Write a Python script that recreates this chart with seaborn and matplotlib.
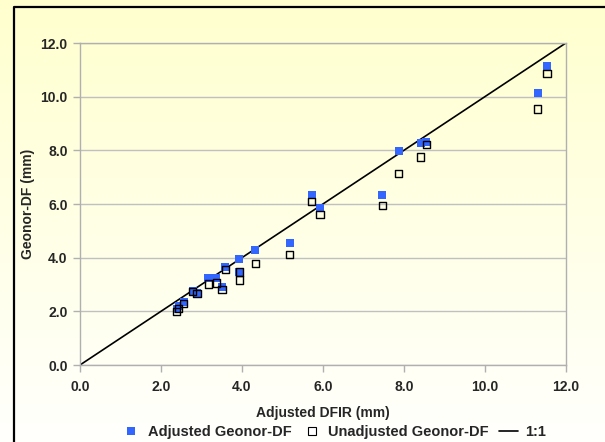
import numpy as np
import pandas as pd
import seaborn as sns
import matplotlib.pyplot as plt
from matplotlib.lines import Line2D

# values
dfir = [2.39, 2.44, 2.56, 2.78, 2.89, 3.17, 3.37, 3.51, 3.59, 3.94, 3.94,
        4.33, 5.18, 5.72, 5.93, 7.47, 7.87, 8.42, 8.56, 11.31, 11.54]
adjusted = [2.10, 2.18, 2.35, 2.77, 2.70, 3.26, 3.26, 2.92, 3.66, 3.94, 3.46,
            4.27, 4.55, 6.32, 5.85, 6.34, 7.99, 8.27, 8.30, 10.15, 11.16]
unadjusted = [2.00, 2.10, 2.30, 2.75, 2.67, 3.02, 3.05, 2.82, 3.57, 3.46, 3.17,
              3.79, 4.12, 6.09, 5.62, 5.94, 7.15, 7.76, 8.23, 9.54, 10.87]
one_to_one = [0.0, 12.0]
ticks = [0, 2, 4, 6, 8, 10, 12]

df = pd.DataFrame({"dfir": dfir, "adjusted": adjusted, "unadjusted": unadjusted})
line = pd.DataFrame({"x": one_to_one, "y": one_to_one})

sns.set_style("white")
plt.rcParams["font.family"] = ["Liberation Sans", "DejaVu Sans"]
plt.rcParams["font.weight"] = "bold"

# a hair over 6.05 in so the canvas really is 605 px wide
fig = plt.figure(figsize=(6.052, 4.422), dpi=100, facecolor="#FFFFF0")

# yellow-to-white background gradient for the whole chart
bg = fig.add_axes([0, 0, 1, 1], zorder=-10, frameon=False)
grad = np.linspace(0, 1, 64)
top = np.array([1.0, 1.0, 0.80])
bot = np.array([1.0, 1.0, 1.0])
col = top + (bot - top) * grad[:, None]
img = np.repeat(col[:, None, :], 8, axis=1)
bg.imshow(img, aspect="auto", extent=[-0.05, 1.05, -0.05, 1.05],
          origin="upper", interpolation="bilinear")
bg.set_xlim(0, 1)
bg.set_ylim(0, 1)
bg.set_xticks([])
bg.set_yticks([])
# chart frame: only left and top edges are inside the picture
fx, fy = 14 / 605, 1 - 7 / 442
bg.plot([fx, fx, 1.05], [-0.05, fy, fy], color="black", linewidth=1.6,
        clip_on=False)

ax = fig.add_axes([80 / 605, 1 - 365 / 442, 485.5 / 605, 321.7 / 442])
ax.set_facecolor("none")

sns.lineplot(data=line, x="x", y="y", ax=ax, color="black", linewidth=1.2, zorder=2)
sns.scatterplot(data=df, x="dfir", y="adjusted", ax=ax, marker="s", s=34,
                color="#3366FF", linewidth=0, zorder=3)
sns.scatterplot(data=df, x="dfir", y="unadjusted", ax=ax, marker="s", s=28,
                color="black", linewidth=1.0, zorder=4)
ax.collections[-1].set_facecolor("none")
ax.collections[-1].set_edgecolor("black")

ax.set_xlim(0, 12)
ax.set_ylim(0, 12)
ax.set_xticks(ticks)
ax.set_yticks(ticks)
ax.set_xticklabels([f"{t:.1f}" for t in ticks])
ax.set_yticklabels([f"{t:.1f}" for t in ticks])
ax.yaxis.grid(True, color="#C0C0C0", linewidth=1)
ax.xaxis.grid(False)
for sp in ax.spines.values():
    sp.set_color("#B0B0B0")
    sp.set_linewidth(1)
ax.tick_params(axis="both", direction="out", length=5, width=1, color="#B0B0B0",
               labelsize=10, pad=4, bottom=True, left=True)
ax.tick_params(axis="x", pad=6)
ax.set_xlabel("Adjusted DFIR (mm)", fontsize=10, fontweight="bold", labelpad=8)
ax.set_ylabel("Geonor-DF (mm)", fontsize=10, fontweight="bold", labelpad=4)

handles = [
    Line2D([], [], marker="s", linestyle="none", markersize=6,
           markerfacecolor="#3366FF", markeredgewidth=0),
    Line2D([], [], marker="s", linestyle="none", markersize=5.5,
           markerfacecolor="white", markeredgecolor="black", markeredgewidth=0.8),
    Line2D([], [], color="black", linewidth=1.2),
]
fig.legend(handles, ["Adjusted Geonor-DF", "Unadjusted Geonor-DF", "1:1"],
           loc="center", bbox_to_anchor=(334 / 605, 1 - 432 / 442), ncol=3,
           frameon=False, fontsize=10.5, handlelength=1.3, handletextpad=0.5,
           columnspacing=0.7, borderaxespad=0)

fig.savefig("out.png", dpi=100, facecolor=fig.get_facecolor())
